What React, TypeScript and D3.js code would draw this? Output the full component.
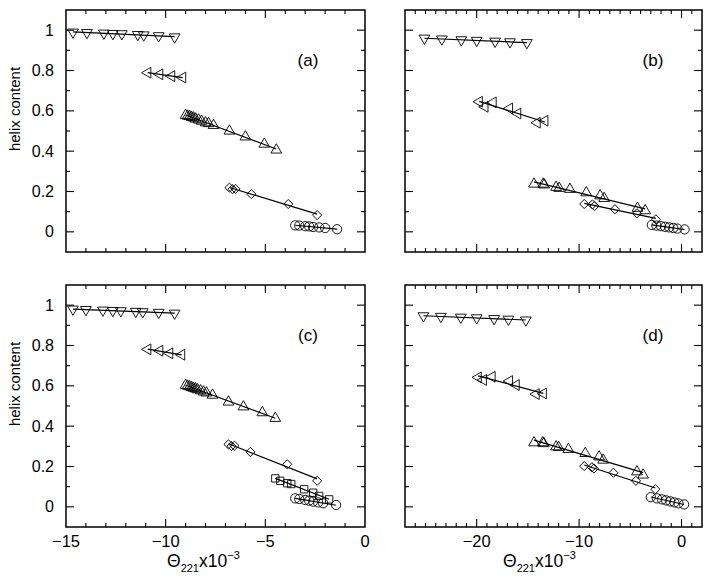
import React from 'react';
import * as d3 from 'd3';

// ---------- data ----------
// panel (a)
const aDownX = [-14.65, -13.95, -13.1, -12.65, -12.2, -11.4, -11.1, -10.35, -9.55];
const aDownY = [0.99, 0.988, 0.985, 0.983, 0.982, 0.978, 0.976, 0.972, 0.966];
const aLeftX = [-10.9, -10.3, -9.7, -9.15];
const aLeftY = [0.789, 0.781, 0.772, 0.765];
const aUpX = [-9.0, -8.9, -8.8, -8.7, -8.6, -8.5, -8.35, -8.2, -8.0, -7.85, -7.6, -6.8, -6.0, -5.05, -4.45];
const aUpY = [0.578, 0.574, 0.572, 0.568, 0.565, 0.56, 0.555, 0.549, 0.541, 0.537, 0.528, 0.5, 0.471, 0.435, 0.406];
const aDiaX = [-6.8, -6.65, -6.5, -5.7, -3.85, -2.4];
const aDiaY = [0.219, 0.212, 0.213, 0.187, 0.138, 0.083];
const aCircX = [-3.5, -3.3, -3.0, -2.8, -2.6, -2.3, -2.0, -1.4];
const aCircY = [0.032, 0.031, 0.028, 0.027, 0.024, 0.022, 0.019, 0.013];

// panel (b)
const bDownX = [-25.1, -23.4, -21.5, -20.0, -18.2, -16.75, -15.1];
const bDownY = [0.96, 0.956, 0.952, 0.949, 0.945, 0.942, 0.938];
const bLeftX = [-19.75, -19.2, -18.4, -16.8, -16.0, -14.1, -13.35];
const bLeftY = [0.645, 0.62, 0.642, 0.612, 0.587, 0.541, 0.551];
const bUpX = [-14.4, -13.5, -13.4, -12.25, -11.95, -10.9, -9.3, -7.95, -7.55, -4.3, -3.55];
const bUpY = [0.237, 0.237, 0.233, 0.221, 0.216, 0.211, 0.194, 0.179, 0.166, 0.117, 0.105];
const bDiaX = [-9.5, -8.7, -8.5, -6.5, -4.35, -2.5];
const bDiaY = [0.138, 0.136, 0.128, 0.112, 0.092, 0.062];
const bCircX = [-2.9, -2.45, -2.0, -1.6, -1.2, -0.8, -0.4, 0.3];
const bCircY = [0.034, 0.031, 0.028, 0.025, 0.022, 0.019, 0.016, 0.012];

// panel (c)
const cDownX = [-14.65, -14.0, -13.15, -12.65, -12.25, -11.5, -11.15, -10.35, -9.55];
const cDownY = [0.98, 0.978, 0.975, 0.973, 0.972, 0.969, 0.967, 0.964, 0.96];
const cLeftX = [-10.9, -10.3, -9.8, -9.2];
const cLeftY = [0.781, 0.774, 0.761, 0.754];
const cUpX = [-9.0, -8.9, -8.8, -8.7, -8.6, -8.5, -8.4, -8.25, -8.1, -7.95, -7.65, -6.85, -6.1, -5.15, -4.5];
const cUpY = [0.603, 0.599, 0.596, 0.592, 0.588, 0.585, 0.581, 0.576, 0.57, 0.565, 0.554, 0.52, 0.496, 0.467, 0.439];
const cDiaX = [-6.85, -6.7, -6.55, -5.75, -3.9, -2.4];
const cDiaY = [0.31, 0.301, 0.303, 0.272, 0.211, 0.129];
const cSqX = [-4.5, -4.25, -3.9, -3.7, -3.05, -2.6, -2.3, -1.8];
const cSqY = [0.141, 0.129, 0.117, 0.113, 0.087, 0.07, 0.054, 0.037];
const cCircX = [-3.5, -3.3, -3.0, -2.8, -2.6, -2.35, -2.1, -1.45];
const cCircY = [0.042, 0.039, 0.034, 0.031, 0.026, 0.022, 0.018, 0.009];

// panel (d)
const dDownX = [-25.2, -23.5, -21.55, -20.0, -18.3, -16.9, -15.2];
const dDownY = [0.947, 0.944, 0.94, 0.937, 0.933, 0.93, 0.926];
const dLeftX = [-19.85, -19.35, -18.5, -16.8, -16.15, -14.2, -13.5];
const dLeftY = [0.642, 0.629, 0.645, 0.624, 0.604, 0.559, 0.562];
const dUpX = [-14.4, -13.55, -13.45, -12.25, -12.0, -11.05, -9.4, -8.05, -7.65, -4.35, -3.75];
const dUpY = [0.318, 0.318, 0.314, 0.298, 0.295, 0.285, 0.265, 0.248, 0.232, 0.174, 0.158];
const dDiaX = [-9.5, -8.75, -8.55, -6.65, -4.45, -2.55];
const dDiaY = [0.202, 0.196, 0.19, 0.169, 0.129, 0.087];
const dCircX = [-3.0, -2.4, -1.9, -1.5, -1.1, -0.7, -0.3, 0.25];
const dCircY = [0.048, 0.042, 0.037, 0.032, 0.027, 0.022, 0.017, 0.012];

const leftXTicks = [-15, -10, -5, 0];
const rightXTicks = [-20, -10, 0];
const yTicks = [0, 0.2, 0.4, 0.6, 0.8, 1];

// ---------- layout ----------
const FONT = "'Liberation Sans', Arial, Helvetica, sans-serif";
const W = 714, H = 584;
const COL = [{ left: 66, right: 365 }, { left: 405, right: 702 }];
const ROW = [{ top: 10, bottom: 252 }, { top: 285, bottom: 527 }];

type S = { shape: string; xs: number[]; ys: number[] };
const mk = (shape: string, xs: number[], ys: number[]): S => ({ shape, xs, ys });

const panels = [
  { label: '(a)', col: 0, row: 0, dom: [-15, 0], major: leftXTicks, series: [mk('down', aDownX, aDownY), mk('left', aLeftX, aLeftY), mk('up', aUpX, aUpY), mk('diamond', aDiaX, aDiaY), mk('circle', aCircX, aCircY)] },
  { label: '(b)', col: 1, row: 0, dom: [-27, 2], major: rightXTicks, series: [mk('down', bDownX, bDownY), mk('left', bLeftX, bLeftY), mk('up', bUpX, bUpY), mk('diamond', bDiaX, bDiaY), mk('circle', bCircX, bCircY)] },
  { label: '(c)', col: 0, row: 1, dom: [-15, 0], major: leftXTicks, series: [mk('down', cDownX, cDownY), mk('left', cLeftX, cLeftY), mk('up', cUpX, cUpY), mk('diamond', cDiaX, cDiaY), mk('square', cSqX, cSqY), mk('circle', cCircX, cCircY)] },
  { label: '(d)', col: 1, row: 1, dom: [-27, 2], major: rightXTicks, series: [mk('down', dDownX, dDownY), mk('left', dLeftX, dLeftY), mk('up', dUpX, dUpY), mk('diamond', dDiaX, dDiaY), mk('circle', dCircX, dCircY)] },
];

function markerProps(shape: string) {
  switch (shape) {
    case 'down': return { d: d3.symbol(d3.symbolTriangle, 50)()!, rot: 180 };
    case 'up': return { d: d3.symbol(d3.symbolTriangle, 50)()!, rot: 0 };
    case 'left': return { d: d3.symbol(d3.symbolTriangle, 50)()!, rot: -90 };
    case 'diamond': return { d: d3.symbol(d3.symbolSquare, 42)()!, rot: 45 };
    case 'square': return { d: d3.symbol(d3.symbolSquare, 54)()!, rot: 0 };
    default: return { d: d3.symbol(d3.symbolCircle, 68)()!, rot: 0 };
  }
}

function fit(xs: number[], ys: number[]) {
  const mx = d3.mean(xs)!, my = d3.mean(ys)!;
  let sxy = 0, sxx = 0;
  xs.forEach((x, i) => { sxy += (x - mx) * (ys[i] - my); sxx += (x - mx) * (x - mx); });
  const b = sxx ? sxy / sxx : 0;
  const a = my - b * mx;
  const [x0, x1] = d3.extent(xs) as [number, number];
  return [[x0, a + b * x0], [x1, a + b * x1]];
}

function Panel({ p }: { p: typeof panels[number] }) {
  const { left, right } = COL[p.col];
  const { top, bottom } = ROW[p.row];
  const x = d3.scaleLinear().domain(p.dom).range([left, right]);
  const y = d3.scaleLinear().domain([-0.1, 1.1]).range([bottom, top]);
  const minorX = d3.range(Math.ceil(p.dom[0]), Math.floor(p.dom[1]) + 1).filter(v => v > p.dom[0] && v < p.dom[1]);
  const minorY = d3.range(0, 11).map(i => i / 10);
  const MAJ = 8, MIN = 4;
  const line = d3.line<number[]>().x(d => x(d[0])).y(d => y(d[1]));
  const isMajX = (v: number) => p.major.includes(v);
  const isMajY = (v: number) => yTicks.some(t => Math.abs(t - v) < 1e-6);
  return (
    <g>
      {minorX.map(v => {
        const L = isMajX(v) ? MAJ : MIN;
        return (
          <g key={'x' + v}>
            <line x1={x(v)} x2={x(v)} y1={bottom} y2={bottom - L} stroke="#000" strokeWidth={1.1} />
            <line x1={x(v)} x2={x(v)} y1={top} y2={top + L} stroke="#000" strokeWidth={1.1} />
          </g>
        );
      })}
      {minorY.map(v => {
        const L = isMajY(v) ? MAJ : MIN;
        return (
          <g key={'y' + v}>
            <line x1={left} x2={left + L} y1={y(v)} y2={y(v)} stroke="#000" strokeWidth={1.1} />
            <line x1={right} x2={right - L} y1={y(v)} y2={y(v)} stroke="#000" strokeWidth={1.1} />
          </g>
        );
      })}
      <rect x={left} y={top} width={right - left} height={bottom - top} fill="none" stroke="#000" strokeWidth={1.5} />
      {p.series.map((s, i) => (
        <path key={'f' + i} d={line(fit(s.xs, s.ys))!} stroke="#000" strokeWidth={1.2} fill="none" />
      ))}
      {p.series.map((s, i) => {
        const m = markerProps(s.shape);
        return s.xs.map((xv, j) => (
          <path key={'m' + i + '-' + j} d={m.d}
            transform={`translate(${x(xv)},${y(s.ys[j])}) rotate(${m.rot})`}
            fill="none" stroke="#000" strokeWidth={0.9} />
        ));
      })}
      <text x={p.col === 0 ? 308 : 653} y={top + 56} fontSize={17} fontFamily={FONT} textAnchor="middle">{p.label}</text>
      {p.col === 0 && yTicks.map(v => (
        <text key={'yl' + v} x={left - 12} y={y(v) + 5.5} fontSize={16} fontFamily={FONT} textAnchor="end">{String(v)}</text>
      ))}
      {p.col === 0 && (
        <text transform={`translate(20,${(top + bottom) / 2 - 22}) rotate(-90)`} fontSize={15} fontFamily={FONT} textAnchor="middle">helix content</text>
      )}
      {p.row === 1 && p.major.map(v => (
        <text key={'xl' + v} x={x(v)} y={bottom + 20} fontSize={16.5} fontFamily={FONT} textAnchor="middle">{v < 0 ? '\u2212' + Math.abs(v) : String(v)}</text>
      ))}
      {p.row === 1 && (
        <text x={p.col === 0 ? 167 : 503} y={bottom + 40} fontSize={17.5} fontFamily={FONT}>
          <tspan>Θ</tspan>
          <tspan fontSize={11} dy={5}>221</tspan>
          <tspan dy={-5}>x10</tspan>
          <tspan fontSize={11} dy={-8}>−3</tspan>
        </text>
      )}
    </g>
  );
}

export default function App() {
  return (
    <svg width={W} height={H} style={{ position: 'absolute', left: 0, top: 0, background: '#fff' }}>
      <rect width={W} height={H} fill="#fff" />
      {panels.map((p, i) => <Panel key={i} p={p} />)}
    </svg>
  );
}
